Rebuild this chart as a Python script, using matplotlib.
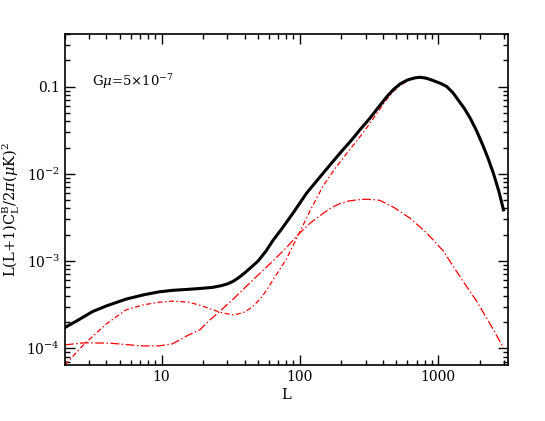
import numpy as np
import matplotlib
matplotlib.use("Agg")
import matplotlib.pyplot as plt
from matplotlib.ticker import FixedLocator, FixedFormatter, LogLocator, NullFormatter

plt.rcParams['font.family'] = 'DejaVu Serif'
plt.rcParams['mathtext.fontset'] = 'dejavuserif'

# total B-mode spectrum (black)
L_tot = [2, 2.5, 3.18, 4, 5.55, 7.5, 9.6, 12, 15.5, 19, 23.5, 27, 30, 33, 36, 40,
         45, 50, 57, 64, 75, 90, 112, 140, 170, 200, 240, 272, 320, 380, 430,
         474, 530, 600, 680, 741, 820, 925, 1040, 1156, 1280, 1400, 1550, 1706,
         1900, 2100, 2300, 2517, 2750, 2973]
C_tot = [1.72e-4, 2.1e-4, 2.63e-4, 3.05e-4, 3.65e-4, 4.1e-4, 4.42e-4, 4.6e-4,
         4.72e-4, 4.83e-4, 4.98e-4, 5.2e-4, 5.45e-4, 5.85e-4, 6.4e-4, 7.3e-4,
         8.6e-4, 1.0e-3, 1.3e-3, 1.72e-3, 2.4e-3, 3.6e-3, 6.0e-3, 9.2e-3,
         1.33e-2, 1.8e-2, 2.5e-2, 3.19e-2, 4.3e-2, 6.1e-2, 7.8e-2, 9.2e-2,
         0.107, 0.119, 0.126, 0.128, 0.125, 0.117, 0.109, 0.1, 0.085, 0.07,
         0.056, 0.0435, 0.031, 0.0215, 0.015, 0.01, 6.3e-3, 3.85e-3]

# component that joins the total at high L
L_b = [2, 2.77, 4, 5.55, 7.5, 9.6, 12, 15.5, 19, 23.5, 28, 33.8, 40, 45.7, 52,
       58, 65, 80, 97, 120, 147, 180, 230, 272, 320, 380, 430, 474, 530, 600,
       680, 741, 820, 925, 1040, 1156, 1280, 1400, 1550, 1706, 1900, 2100,
       2300, 2517, 2750, 2973]
C_b = [6.4e-5, 1.12e-4, 1.9e-4, 2.75e-4, 3.15e-4, 3.36e-4, 3.46e-4, 3.38e-4,
       3.1e-4, 2.75e-4, 2.52e-4, 2.4e-4, 2.6e-4, 3.0e-4, 3.7e-4, 4.7e-4,
       6.3e-4, 1.05e-3, 1.95e-3, 3.9e-3, 7.2e-3, 1.15e-2, 1.9e-2, 2.65e-2,
       3.75e-2, 5.55e-2, 7.3e-2, 8.75e-2, 0.103, 0.116, 0.124, 0.126, 0.123,
       0.115, 0.107, 0.099, 0.084, 0.069, 0.055, 0.043, 0.0305, 0.0212, 0.0148,
       0.0099, 6.2e-3, 3.8e-3]

# component with the flat start
L_a = [2, 2.77, 4.2, 5.5, 7.3, 9.6, 12, 13.5, 15.5, 18.9, 22, 26.3, 33, 41, 50,
       64, 80, 97, 120, 147, 170, 195, 230, 270, 302, 340, 380, 480, 625, 826,
       1090, 1440, 1900, 2517, 2973]
C_a = [1.09e-4, 1.15e-4, 1.14e-4, 1.1e-4, 1.06e-4, 1.06e-4, 1.12e-4, 1.24e-4,
       1.4e-4, 1.62e-4, 2.05e-4, 2.63e-4, 3.65e-4, 5.1e-4, 6.9e-4, 1.0e-3,
       1.42e-3, 2.0e-3, 2.75e-3, 3.5e-3, 4.1e-3, 4.55e-3, 4.9e-3, 5.05e-3,
       5.1e-3, 5.05e-3, 4.95e-3, 4.1e-3, 3.1e-3, 2.1e-3, 1.3e-3, 6.6e-4,
       3.45e-4, 1.62e-4, 1.0e-4]

fig = plt.figure(figsize=(5.45, 4.21), dpi=100)
ax = fig.add_axes([0.119, 0.133, 0.813, 0.786])

ax.plot(L_a, C_a, color='red', lw=0.9, dashes=(7, 2, 1.2, 2))
ax.plot(L_b, C_b, color='red', lw=0.9, dashes=(4, 2, 1.2, 2))
ax.plot(L_tot, C_tot, color='black', lw=2.2, solid_joinstyle='round')

ax.set_xscale('log')
ax.set_yscale('log')
ax.set_xlim(2, 3200)
ax.set_ylim(6.4e-5, 0.4)

ax.xaxis.set_major_locator(FixedLocator([10, 100, 1000]))
ax.xaxis.set_major_formatter(FixedFormatter(['10', '100', '1000']))
ax.xaxis.set_minor_locator(LogLocator(base=10, subs=np.arange(2, 10)))
ax.xaxis.set_minor_formatter(NullFormatter())
ax.yaxis.set_major_locator(FixedLocator([1e-4, 1e-3, 1e-2, 0.1]))
ax.yaxis.set_major_formatter(FixedFormatter([r'$10^{-4}$', r'$10^{-3}$', r'$10^{-2}$', '0.1']))
ax.yaxis.set_minor_locator(LogLocator(base=10, subs=np.arange(2, 10)))
ax.yaxis.set_minor_formatter(NullFormatter())

ax.tick_params(which='both', direction='in', top=True, right=True, labelsize=10, width=1.0)
ax.tick_params(which='major', length=7)
ax.tick_params(which='minor', length=3.5)
for s in ax.spines.values():
    s.set_linewidth(1.2)

ax.set_xlabel('L', fontsize=10.5, labelpad=3)
ax.set_ylabel(r'L(L+1)C$_\mathrm{L}^\mathrm{B}$/2$\pi$($\mu$K)$^2$', fontsize=10.5)
ax.yaxis.set_label_coords(-0.097, 0.47)
ax.text(0.062, 0.856, r'G$\mu$=5$\times$10$^{-7}$', transform=ax.transAxes,
        fontsize=9.5, va='center', ha='left')

fig.savefig('out.png', dpi=100)
